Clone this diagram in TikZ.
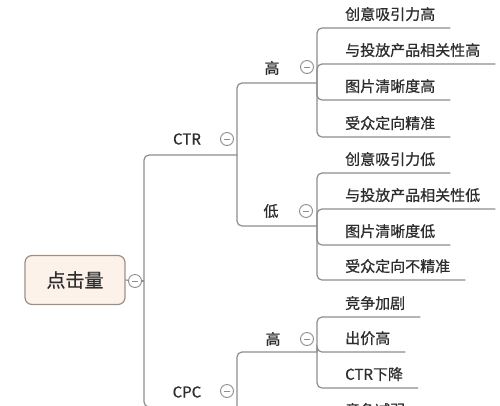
\documentclass[tikz,border=0pt]{standalone}
\usepackage{fontspec}
\setmainfont{Noto Sans CJK SC}[FakeBold=0.6]
\usepackage{tikz}
\usetikzlibrary{positioning,calc}
\definecolor{linegray}{RGB}{142,142,142}
\definecolor{textdark}{RGB}{45,45,45}
\definecolor{rootfill}{RGB}{253,242,233}
\definecolor{rootdraw}{RGB}{158,144,132}

\begin{document}
\begin{tikzpicture}[x=1pt, y=-1pt, font=\fontsize{15}{17}\selectfont, text=textdark,
    branch/.style={draw=linegray, line width=1.2pt, rounded corners=5pt},
    leaf/.style={anchor=south west, inner xsep=15pt, inner ysep=5pt, text height=11pt, text depth=3pt},
    topic/.style={inner sep=0pt},
    fold/.style={circle, draw=linegray, fill=white, line width=0.9pt, minimum size=13pt, inner sep=0pt,
      path picture={\draw[linegray, line width=0.9pt] ([xshift=-3pt]path picture bounding box.center) -- ([xshift=3pt]path picture bounding box.center);}}]
  \clip (0,0) rectangle (500,405);
  \fill[white] (0,0) rectangle (500,405);

  \node[draw=rootdraw, fill=rootfill, line width=1.2pt, rounded corners=7pt, minimum width=100pt, minimum height=49pt,
    font=\fontsize{19}{22}\selectfont] (root) at (75,280) {点击量};
  \node[fold] (froot) at (135,281) {};
  \coordinate (jroot) at (144,281);
  \draw[branch] (root.east) -- (froot);
  \draw[branch] (froot.east) -- (jroot);

  \node[topic] (ctr) at (187,139) {CTR};
  \node[fold] (fctr) at (227,139) {};
  \coordinate (jctr) at (237,155);
  \node[topic] (cpc) at (187,392) {CPC};
  \node[fold] (fcpc) at (227,391) {};
  \coordinate (jcpc) at (237,407);
  \draw[branch] (jroot) |- (jctr);
  \draw[branch] (jroot) |- (jcpc);

  \node[topic] (hi) at (272,68) {高};
  \node[fold] (fhi) at (307,67) {};
  \coordinate (jhi) at (317,83);
  \node[topic] (lo) at (271,211) {低};
  \node[fold] (flo) at (306,211) {};
  \coordinate (jlo) at (317,226);
  \draw[branch] (jctr) |- (jhi);
  \draw[branch] (jctr) |- (jlo);

  \node[leaf] (hi1) at (330,28) {创意吸引力高};
  \node[leaf] (hi2) at (330,64) {与投放产品相关性高};
  \node[leaf] (hi3) at (330,100) {图片清晰度高};
  \node[leaf] (hi4) at (330,137) {受众定向精准};
  \foreach \n in {hi1,hi2,hi3,hi4}
    \draw[branch] (jhi) |- (\n.south east);

  \node[leaf] (lo1) at (330,173) {创意吸引力低};
  \node[leaf] (lo2) at (330,209) {与投放产品相关性低};
  \node[leaf] (lo3) at (330,245) {图片清晰度低};
  \node[leaf] (lo4) at (330,280) {受众定向不精准};
  \foreach \n in {lo1,lo2,lo3,lo4}
    \draw[branch] (jlo) |- (\n.south east);

  \node[topic] (cphi) at (273,339) {高};
  \node[fold] (fcphi) at (307,339) {};
  \coordinate (jcphi) at (317,352);
  \coordinate (jcplo) at (317,470);
  \draw[branch] (jcpc) |- (jcphi);
  \draw[branch] (jcpc) |- (jcplo);

  \node[leaf] (cp1) at (330,317) {竞争加剧};
  \node[leaf] (cp2) at (330,352) {出价高};
  \node[leaf] (cp3) at (330,388) {CTR下降};
  \foreach \n in {cp1,cp2,cp3}
    \draw[branch] (jcphi) |- (\n.south east);

  \node[leaf] (cq1) at (330,424) {竞争减弱};
  \draw[branch] (jcplo) |- (cq1.south east);
\end{tikzpicture}
\end{document}
